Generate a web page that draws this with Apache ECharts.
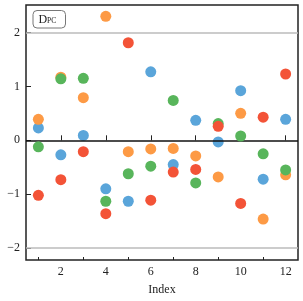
<!DOCTYPE html>
<html><head><meta charset="utf-8">
<script src="https://cdn.jsdelivr.net/npm/echarts@6/dist/echarts.min.js"></script>
<style>html,body{margin:0;padding:0;background:#fff}#c{width:303px;height:301px}</style>
</head><body><div id="c"></div>
<script>
const indices = [1,2,3,4,5,6,7,8,9,10,11,12];
const blueVals   = [0.23,-0.27,0.09,-0.90,-1.13,1.27,-0.45,0.37,-0.03,0.92,-0.72,0.39];
const orangeVals = [0.39,1.17,0.79,2.30,-0.21,-0.16,-0.15,-0.29,-0.68,0.50,-1.46,-0.64];
const greenVals  = [-0.12,1.14,1.15,-1.13,-0.62,-0.48,0.74,-0.79,0.31,0.08,-0.25,-0.55];
const redVals    = [-1.02,-0.73,-0.21,-1.36,1.81,-1.11,-0.59,-0.54,0.26,-1.17,0.43,1.23];
const xMajorTicks = [2,4,6,8,10,12];
const xMinorTicks = [1,3,5,7,9,11];
const yTicks = [-2,-1,0,1,2];
const colors = ['#5aa5da','#fd9a45','#58b55b','#f35337'];
const font = 'Liberation Serif';
const chart = echarts.init(document.getElementById('c'), null, {renderer:'canvas'});
function mk(vals, i){
  return {type:'scatter', data: indices.map((x,k)=>[x, vals[k]]), symbolSize: 11,
    itemStyle:{color: colors[i], opacity:1}, z: 3+i, silent:true};
}
chart.setOption({
  animation:false,
  grid:{left:26, right:5, top:5, bottom:38, show:true, borderColor:'#222', borderWidth:1.5, backgroundColor:'transparent'},
  xAxis:[{type:'value', min:0.45, max:12.55, name:'Index', nameLocation:'middle', nameGap:24,
    nameTextStyle:{fontFamily:font, fontSize:12, color:'#222'},
    axisLine:{show:false}, splitLine:{show:false},
    axisTick:{show:true, inside:true, length:5, lineStyle:{color:'#222', width:1}, customValues:xMajorTicks},
    axisLabel:{fontFamily:font, fontSize:12, color:'#222', margin:6, customValues:xMajorTicks}},
   {type:'value', min:0.45, max:12.55, position:'bottom', axisLine:{show:false}, splitLine:{show:false},
    axisTick:{show:true, inside:true, length:3, lineStyle:{color:'#222', width:1}, customValues:xMinorTicks},
    axisLabel:{show:false, customValues:xMinorTicks}}],
  yAxis:{type:'value', min:-2.22, max:2.51, axisLine:{show:false}, splitLine:{show:false},
    axisTick:{show:true, inside:true, length:5, lineStyle:{color:'#222', width:1}, customValues:yTicks},
    axisLabel:{fontFamily:font, fontSize:12, color:'#222', margin:6, customValues:yTicks,
      formatter: v => String(v).replace('-', '\u2212')}},
  graphic:[
    {type:'rect', shape:{x:33, y:10.5, width:32.5, height:17.5, r:4}, style:{fill:'#fff', stroke:'#777', lineWidth:1}, z:100},
    {type:'text', x:38.5, y:13.5, style:{text:'D', font:'12px "Liberation Serif"', fill:'#222'}, z:101},
    {type:'text', x:47, y:17.5, style:{text:'PC', font:'7.5px "Liberation Serif"', fill:'#222'}, z:101}
  ],
  series:[
    {type:'scatter', data:[], z:1, silent:true,
     markLine:{silent:true, symbol:'none', label:{show:false}, animation:false,
       data:[
         {yAxis:2, lineStyle:{color:'#bbbbbb', width:1.5, type:'solid'}},
         {yAxis:-2, lineStyle:{color:'#bbbbbb', width:1.5, type:'solid'}},
         {yAxis:0, lineStyle:{color:'#111', width:1.5, type:'solid'}}
       ]}},
    mk(blueVals,0), mk(orangeVals,1), mk(greenVals,2), mk(redVals,3)
  ]
});
</script></body></html>
